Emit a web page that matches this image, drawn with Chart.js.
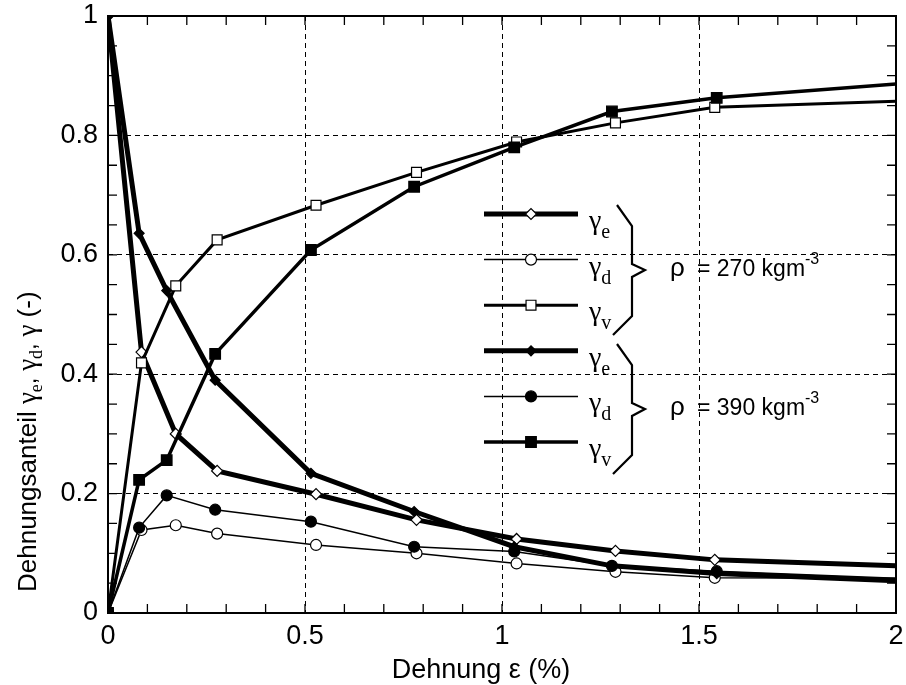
<!DOCTYPE html>
<html>
<head>
<meta charset="utf-8">
<script src="https://cdn.jsdelivr.net/npm/chart.js@4/dist/chart.umd.min.js"></script>
<style>
  html, body { margin: 0; background: #fff; }
  #wrap { width: 906px; height: 685px; }
</style>
</head>
<body>
<div id="wrap"><canvas id="c"></canvas></div>
<script>
// strain (%) at each measured point, per density
var eps270 = [0, 0.085, 0.172, 0.277, 0.528, 0.783, 1.037, 1.288, 1.54, 2];
var eps390 = [0, 0.079, 0.149, 0.272, 0.515, 0.777, 1.031, 1.279, 1.545, 2];

// strain shares, rho = 270 kg/m3
var ge270 = [1, 0.437, 0.300, 0.238, 0.199, 0.156, 0.124, 0.104, 0.089, 0.079];
var gd270 = [0, 0.139, 0.147, 0.133, 0.114, 0.100, 0.083, 0.069, 0.059, 0.058];
var gv270 = [0, 0.419, 0.548, 0.625, 0.683, 0.738, 0.789, 0.821, 0.847, 0.857];

// strain shares, rho = 390 kg/m3
var ge390 = [1, 0.636, 0.540, 0.390, 0.234, 0.170, 0.111, 0.079, 0.066, 0.054];
var gd390 = [0, 0.143, 0.197, 0.173, 0.153, 0.111, 0.103, 0.079, 0.070, 0.058];
var gv390 = [0, 0.223, 0.256, 0.434, 0.608, 0.714, 0.780, 0.840, 0.863, 0.886];

var xTicks = [0, 0.5, 1, 1.5, 2];
var yTicks = [0, 0.2, 0.4, 0.6, 0.8, 1];
var groupLabels = ['= 270 kgm', '= 390 kgm'];

var SANS = "'Liberation Sans', Arial, sans-serif";
var SERIF = "'Liberation Serif', 'Times New Roman', serif";

function series(label, sub, xs, ys, style, fill, width, r) {
  return {
    label: label, sub: sub,
    data: xs.map(function (x, i) { return { x: x, y: ys[i] }; }),
    showLine: true, tension: 0,
    borderColor: '#000', borderWidth: width,
    pointStyle: style, pointRadius: xs.map(function (x) { return x >= 2 ? 0 : r; }),
    pointHoverRadius: r,
    pointBackgroundColor: fill, pointBorderColor: '#000', pointBorderWidth: 1.2
  };
}

// legend order top to bottom; 390 drawn on top in the plot
var legendSets = [
  series('270', 'e', eps270, ge270, 'rectRot', '#fff', 5, 5.5),
  series('270', 'd', eps270, gd270, 'circle', '#fff', 1.5, 5.5),
  series('270', 'v', eps270, gv270, 'rect', '#fff', 3, 7),
  series('390', 'e', eps390, ge390, 'rectRot', '#000', 5, 5),
  series('390', 'd', eps390, gd390, 'circle', '#000', 1.5, 5.5),
  series('390', 'v', eps390, gv390, 'rect', '#000', 3.5, 7.5)
];
var datasets = legendSets.slice().reverse();

function richText(ctx, parts, x, y) {
  parts.forEach(function (p) {
    ctx.font = p.font;
    ctx.fillText(p.t, x, y + (p.dy || 0));
    x += ctx.measureText(p.t).width;
  });
}

function fmt(v) { return String(+Number(v).toFixed(2)); }

var framePlugin = {
  id: 'frame',
  beforeDatasetsDraw: function (chart) {
    var c = chart.ctx, a = chart.chartArea;
    var xs = chart.scales.x, ys = chart.scales.y, i, p, L = 9;
    c.save();
    c.strokeStyle = '#000';
    c.lineWidth = 1.3;
    c.beginPath();
    for (i = 1; i < 20; i++) {           // minor ticks every 0.1
      p = xs.getPixelForValue(i / 10);
      c.moveTo(p, a.bottom); c.lineTo(p, a.bottom - L);
      c.moveTo(p, a.top); c.lineTo(p, a.top + L);
    }
    for (i = 1; i < 20; i++) {           // minor ticks every 0.05
      p = ys.getPixelForValue(i / 20);
      c.moveTo(a.left, p); c.lineTo(a.left + L, p);
      c.moveTo(a.right, p); c.lineTo(a.right - L, p);
    }
    c.stroke();
    c.lineWidth = 2;
    c.strokeRect(a.left, a.top, a.right - a.left, a.bottom - a.top);
    c.restore();
  },
  afterDraw: function (chart) {
    var c = chart.ctx;
    c.save();
    c.fillStyle = '#000';
    c.strokeStyle = '#000';

    // legend rows
    var x0 = 484, x1 = 578, xm = 531, y0 = 214, dy = 45.6;
    legendSets.forEach(function (ds, k) {
      var y = y0 + k * dy;
      c.lineWidth = ds.borderWidth;
      c.beginPath(); c.moveTo(x0, y); c.lineTo(x1, y); c.stroke();
      c.fillStyle = ds.pointBackgroundColor;
      c.lineWidth = ds.pointBorderWidth;
      Chart.helpers.drawPoint(c, {
        pointStyle: ds.pointStyle, radius: ds.pointHoverRadius, rotation: 0,
        borderWidth: ds.pointBorderWidth
      }, xm, y);
      c.fillStyle = '#000';
      c.textBaseline = 'alphabetic';
      richText(c, [
        { t: 'γ', font: '28px ' + SERIF, dy: 15 },
        { t: ds.sub, font: '20px ' + SERIF, dy: 24 }
      ], 589, y);
    });

    // braces and density labels
    c.lineWidth = 2.2;
    [0, 1].forEach(function (g) {
      var off = g * 139;
      c.beginPath();
      c.moveTo(617, 205 + off); c.lineTo(632, 226 + off); c.lineTo(632, 264 + off);
      c.lineTo(645, 270 + off); c.lineTo(632, 277 + off); c.lineTo(632, 316 + off);
      c.lineTo(613, 335 + off);
      c.stroke();
      var by = 276 + off;
      richText(c, [{ t: 'ρ', font: '26px ' + SANS }], 670, by);
      richText(c, [
        { t: groupLabels[g], font: '23px ' + SANS },
        { t: '-3', font: '16px ' + SANS, dy: -12 }
      ], 697, by);
    });

    // x axis title
    c.font = '27px ' + SANS;
    c.textAlign = 'center';
    c.fillText('Dehnung ε (%)', 481, 678);
    c.textAlign = 'left';

    // y axis title, rotated
    c.translate(36, 592);
    c.rotate(-Math.PI / 2);
    richText(c, [
      { t: 'Dehnungsanteil ', font: '26px ' + SANS },
      { t: 'γ', font: '27px ' + SERIF },
      { t: 'e', font: '18px ' + SERIF, dy: 6 },
      { t: ', ', font: '24px ' + SANS },
      { t: 'γ', font: '27px ' + SERIF },
      { t: 'd', font: '18px ' + SERIF, dy: 6 },
      { t: ', ', font: '24px ' + SANS },
      { t: 'γ', font: '27px ' + SERIF },
      { t: ' (-)', font: '26px ' + SANS }
    ], 0, 0);
    c.restore();
  }
};

new Chart(document.getElementById('c'), {
  type: 'scatter',
  data: { datasets: datasets },
  options: {
    responsive: true, maintainAspectRatio: false, animation: false,
    layout: { padding: { top: 0, right: 0, left: 0, bottom: 0 } },
    plugins: { legend: { display: false }, tooltip: { enabled: false } },
    scales: {
      x: {
        type: 'linear', min: 0, max: 2,
        afterFit: function (s) { s.height = 72; s.paddingRight = 10; },
        afterBuildTicks: function (s) { s.ticks = xTicks.map(function (v) { return { value: v }; }); },
        ticks: { color: '#000', padding: 7, font: { family: SANS, size: 27 }, callback: fmt },
        grid: { color: '#000', lineWidth: 1, drawTicks: false },
        border: { display: false, dash: [5, 4] }
      },
      y: {
        type: 'linear', min: 0, max: 1,
        afterFit: function (s) { s.width = 108; s.paddingTop = 16; },
        afterBuildTicks: function (s) { s.ticks = yTicks.map(function (v) { return { value: v }; }); },
        ticks: { color: '#000', padding: 10, font: { family: SANS, size: 27 }, callback: fmt },
        grid: { color: '#000', lineWidth: 1, drawTicks: false },
        border: { display: false, dash: [5, 4] }
      }
    }
  },
  plugins: [framePlugin]
});
</script>
</body>
</html>
